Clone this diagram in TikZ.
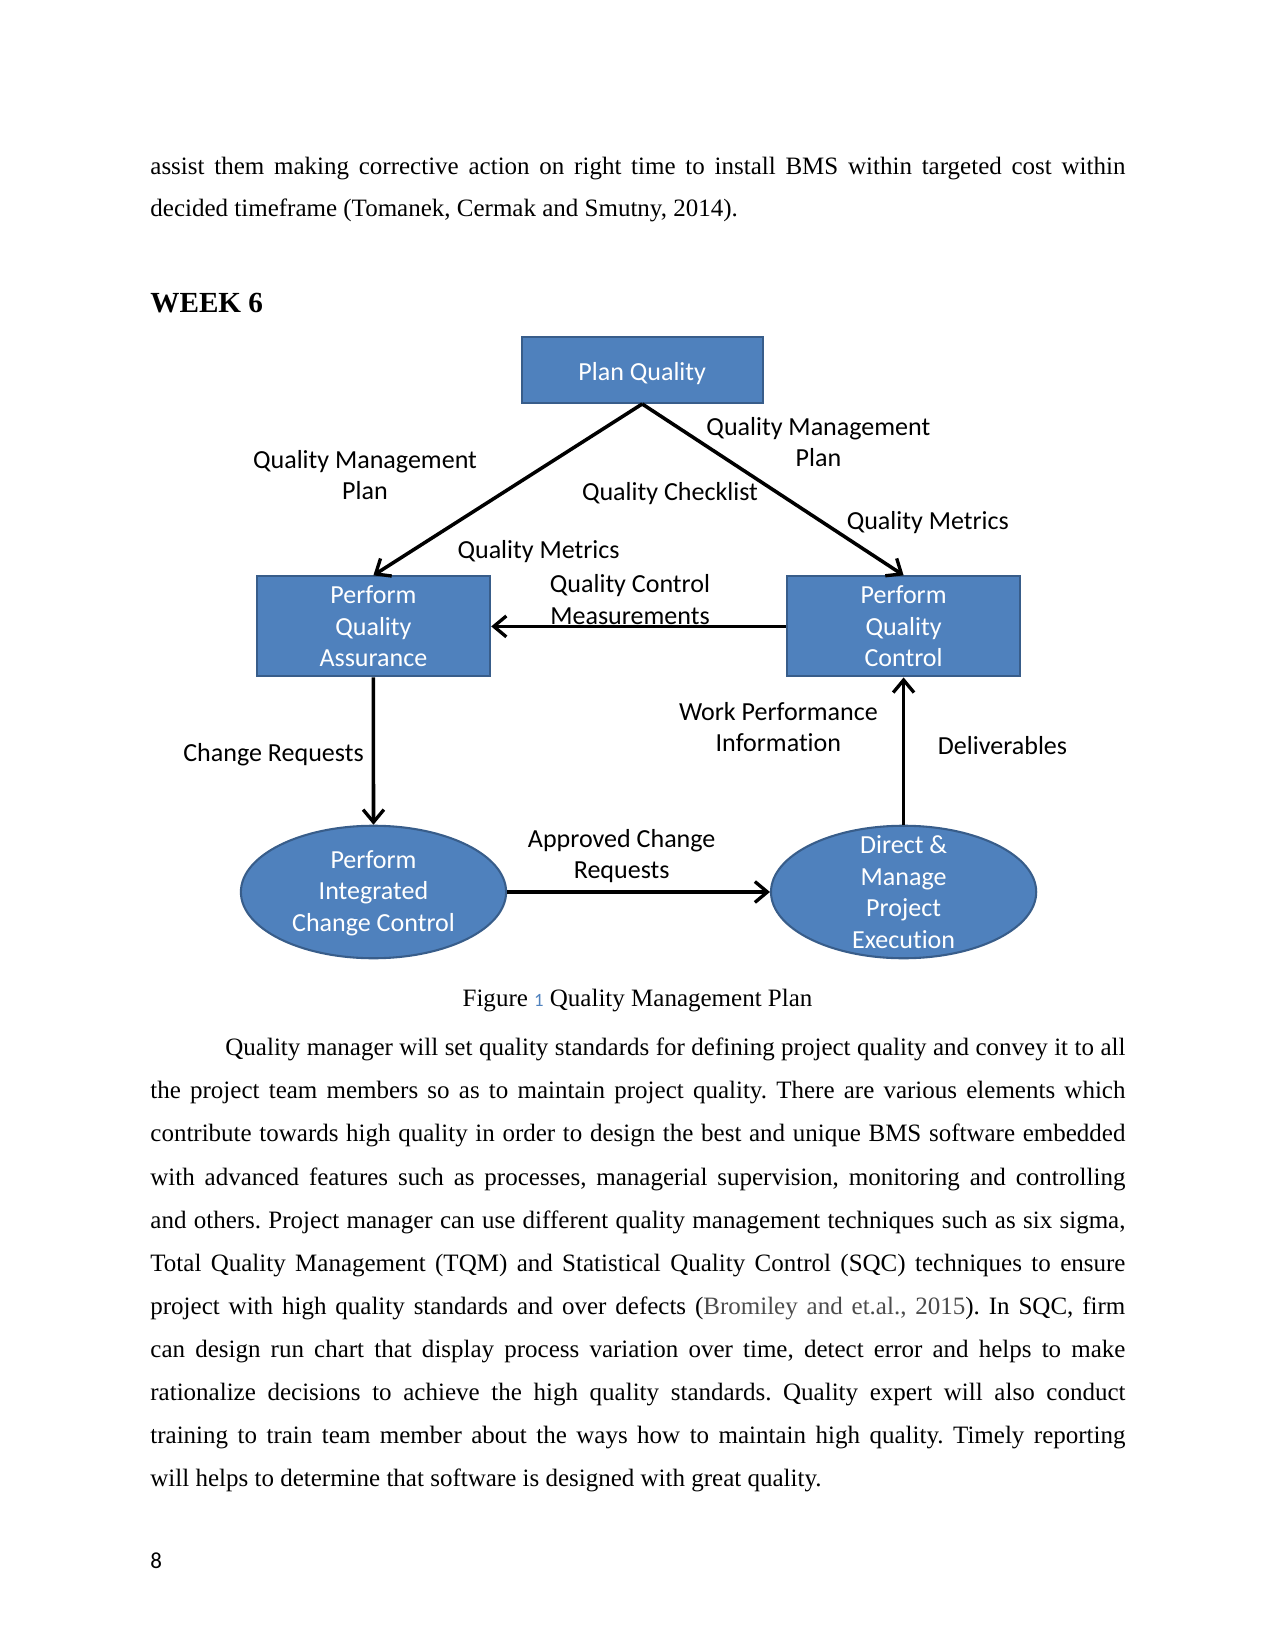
\documentclass[tikz,border=0pt]{standalone}
\usepackage{fontspec}
\setmainfont{Liberation Serif}
\newfontfamily\dgfont[Ligatures=NoCommon]{Carlito}
\usetikzlibrary{shapes.geometric,arrows.meta}
\definecolor{boxblue}{HTML}{4F81BD}
\definecolor{boxedge}{HTML}{385D8A}
\frenchspacing
\newcommand{\jl}[1]{\makebox[468pt][s]{#1}}
\begin{document}
\begin{tikzpicture}[x=0.48pt,y=-0.48pt,
  dg/.style={font=\dgfont\fontsize{12.5}{15.2}\selectfont},
  bbox/.style={dg,draw=boxedge,fill=boxblue,line width=1pt,text=white,align=center,inner sep=0pt},
  ell/.style={ellipse,draw=boxedge,fill=boxblue,line width=1pt,minimum width=127.3pt,minimum height=63.6pt,inner sep=0pt},
  etext/.style={dg,text=white,align=center,inner sep=0pt},
  lab/.style={dg,align=center,inner sep=0pt},
  body/.style={font=\fontsize{12}{14}\selectfont,anchor=base west,inner sep=0pt},
  arr/.style={-{Straight Barb[length=6pt,width=10pt,line width=1.6pt]},line width=1.7pt}]
\useasboundingbox (0,0) rectangle (1275,1650);
\fill[white] (0,0) rectangle (1275,1650);

% top text
\node[body] (t1) at (150,174.5) {\jl{assist them making corrective action on right time to install BMS within targeted cost within}};
\node[body] (t2) at (150,216.5) {decided timeframe (Tomanek, Cermak and Smutny, 2014).};
\node[body,font=\fontsize{14}{16}\selectfont\bfseries] (wk) at (150,313) {WEEK 6};

% boxes
\node[bbox,minimum width=115.6pt,minimum height=31.8pt,text depth=0pt] (pq) at (642.2,369.8) {\raisebox{-1.2pt}{Plan Quality}};
\node[bbox,minimum width=112.1pt,minimum height=48pt] (pqa) at (373.4,626.4) {Perform\\Quality\\Assurance};
\node[bbox,minimum width=112.1pt,minimum height=48pt] (pqc) at (903.6,626.4) {Perform\\Quality\\Control};
\node[ell] (icc) at (373.5,892) {};
\node[ell] (dmp) at (903.6,892) {};
\node[etext] (icct) at (373.5,893) {Perform\\Integrated\\Change Control};
\node[etext] (dmpt) at (903.6,892) {Direct \&\\Manage\\Project\\Execution};

% connectors
\draw[arr] (pq.south) -- (pqa.north);
\draw[arr] (pq.south) -- (pqc.north);
\draw[arr] (pqc.west) -- (pqa.east);
\draw[arr] (pqa.south) -- (icc.north);
\draw[arr] (dmp.north) -- (pqc.south);
\draw[arr] (icc.east) -- (dmp.west);

% labels
\node[lab] (l1) at (365,475) {Quality Management\\Plan};
\node[lab] (l2) at (818.4,442) {Quality Management\\Plan};
\node[lab] (l3) at (670,494) {Quality Checklist};
\node[lab] (l4) at (927.8,523) {Quality Metrics};
\node[lab] (l5) at (538.6,552) {Quality Metrics};
\node[lab] (l6) at (630,599.6) {Quality Control\\Measurements};
\node[lab] (l7) at (778.4,727) {Work Performance\\Information};
\node[lab] (l8) at (1002.5,746) {Deliverables};
\node[lab] (l9) at (273.5,755) {Change Requests};
\node[lab] (l10) at (621.7,856) {Approved Change\\Requests};

% caption
\node[font=\fontsize{12}{14}\selectfont,inner sep=0pt,anchor=base] (cap) at (637.5,1006) {Figure {\dgfont\fontsize{9}{10}\selectfont\color{boxblue}1} Quality Management Plan};

% paragraph
\node[body] (p1) at (225,1055.7) {\makebox[432pt][s]{Quality manager will set quality standards for defining project quality and convey it to all}};
\node[body] (p2) at (150,1098.8) {\jl{the project team members so as to maintain project quality. There are various elements which}};
\node[body] (p3) at (150,1141.9) {\jl{contribute towards high quality in order to design the best and unique BMS software embedded}};
\node[body] (p4) at (150,1185.0) {\jl{with advanced features such as processes, managerial supervision, monitoring and controlling}};
\node[body] (p5) at (150,1228.1) {\jl{and others. Project manager can use different quality management techniques such as six sigma,}};
\node[body] (p6) at (150,1271.2) {\jl{Total Quality Management (TQM) and Statistical Quality Control (SQC) techniques to ensure}};
\node[body] (p7) at (150,1314.3) {\jl{project with high quality standards and over defects ({\color{black!70}Bromiley and et.al., 2015}). In SQC, firm}};
\node[body] (p8) at (150,1357.4) {\jl{can design run chart that display process variation over time, detect error and helps to make}};
\node[body] (p9) at (150,1400.5) {\jl{rationalize decisions to achieve the high quality standards. Quality expert will also conduct}};
\node[body] (p10) at (150,1443.6) {\jl{training to train team member about the ways how to maintain high quality. Timely reporting}};
\node[body] (p11) at (150,1486.7) {will helps to determine that software is designed with great quality.};

% page number
\node[body,font=\dgfont\fontsize{11}{13}\selectfont] (pg) at (150,1568) {8};
\end{tikzpicture}
\end{document}
